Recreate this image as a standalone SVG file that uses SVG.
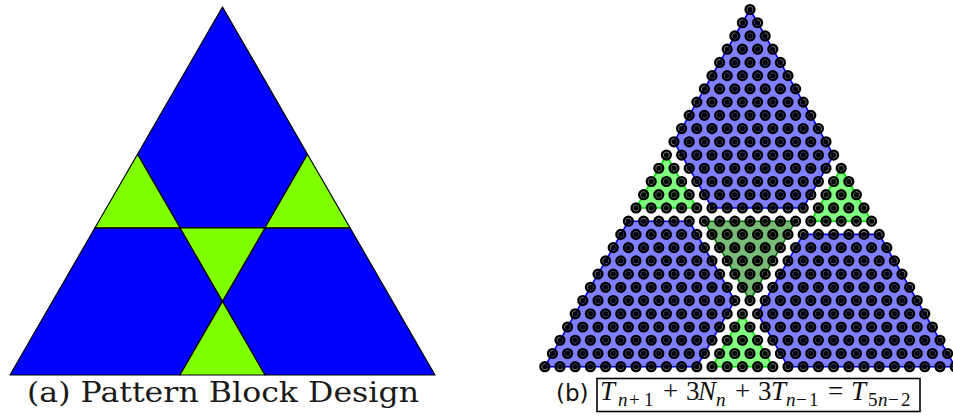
<svg xmlns="http://www.w3.org/2000/svg" width="953" height="418" viewBox="0 0 953 418">
<style>
.blk{stroke:#000;stroke-width:1.2;stroke-linejoin:round}
.bA{fill:#0000ff}
.gA{fill:#7fff00}
.pb{fill:#8080ff;stroke:#0000ff;stroke-width:1.6;stroke-linejoin:round}
.pg{fill:#80ff80;stroke:#00e000;stroke-width:1.6;stroke-linejoin:round}
.pd{fill:#78bb78;stroke:#007a00;stroke-width:1.6;stroke-linejoin:round}
.cap{font-family:"DejaVu Serif",serif;font-size:27px;fill:#1a1a1a}
.lb{font-family:"DejaVu Sans",sans-serif;font-size:23px;fill:#111}
.m{font-family:"Liberation Serif",serif;font-size:27px;fill:#111}
.s{font-size:19px}
.i{font-style:italic}
</style>
<defs>
<g id="d"><circle r="4.4" fill="none" stroke="#000" stroke-width="2.4"/><circle r="3.2" fill="#000" fill-opacity="0.5"/><circle r="2.5" fill="#000"/></g>
<g id="r1"><use href="#d"/></g>
<g id="r2"><use href="#r1"/><use href="#d" x="15.2"/></g>
<g id="r3"><use href="#r2"/><use href="#d" x="30.4"/></g>
<g id="r4"><use href="#r3"/><use href="#d" x="45.6"/></g>
<g id="r5"><use href="#r4"/><use href="#d" x="60.8"/></g>
<g id="r6"><use href="#r5"/><use href="#d" x="76"/></g>
<g id="r7"><use href="#r6"/><use href="#d" x="91.2"/></g>
<g id="r8"><use href="#r7"/><use href="#d" x="106.4"/></g>
<g id="r9"><use href="#r8"/><use href="#d" x="121.6"/></g>
<g id="r10"><use href="#r9"/><use href="#d" x="136.8"/></g>
<g id="r11"><use href="#r10"/><use href="#d" x="152"/></g>
<g id="r12"><use href="#r11"/><use href="#d" x="167.2"/></g>
<g id="r13"><use href="#r12"/><use href="#d" x="182.4"/></g>
<g id="r14"><use href="#r13"/><use href="#d" x="197.6"/></g>
<g id="r15"><use href="#r14"/><use href="#d" x="212.8"/></g>
<g id="r16"><use href="#r15"/><use href="#d" x="228"/></g>
<g id="r17"><use href="#r16"/><use href="#d" x="243.2"/></g>
<g id="r18"><use href="#r17"/><use href="#d" x="258.4"/></g>
<g id="r19"><use href="#r18"/><use href="#d" x="273.6"/></g>
<g id="r20"><use href="#r19"/><use href="#d" x="288.8"/></g>
<g id="r21"><use href="#r20"/><use href="#d" x="304"/></g>
<g id="r22"><use href="#r21"/><use href="#d" x="319.2"/></g>
<g id="r23"><use href="#r22"/><use href="#d" x="334.4"/></g>
<g id="r24"><use href="#r23"/><use href="#d" x="349.6"/></g>
<g id="r25"><use href="#r24"/><use href="#d" x="364.8"/></g>
<g id="r26"><use href="#r25"/><use href="#d" x="380"/></g>
<g id="r27"><use href="#r26"/><use href="#d" x="395.2"/></g>
<g id="r28"><use href="#r27"/><use href="#d" x="410.4"/></g>
</defs>
<rect width="953" height="418" fill="#fff"/>

<!-- (a) pattern block design -->
<g id="design-a" class="blk">
  <polygon id="a-top" class="bA" points="222.5,7 137.5,154.2 180,227.8 265,227.8 307.5,154.2"/>
  <polygon id="a-left" class="bA" points="95,227.8 180,227.8 222.5,301.4 180,375 10,375"/>
  <polygon id="a-right" class="bA" points="265,227.8 350,227.8 435,375 265,375 222.5,301.4"/>
  <polygon id="a-g1" class="gA" points="137.5,154.2 95,227.8 180,227.8"/>
  <polygon id="a-g2" class="gA" points="307.5,154.2 265,227.8 350,227.8"/>
  <polygon id="a-g3" class="gA" points="180,227.8 265,227.8 222.5,301.4"/>
  <polygon id="a-g4" class="gA" points="222.5,301.4 180,375 265,375"/>
</g>
<text id="caption-a" class="cap" x="27" y="402" textLength="392" lengthAdjust="spacingAndGlyphs">(a) Pattern Block Design</text>

<!-- (b) dot decomposition -->
<g id="design-b">
  <polygon id="b-top" class="pb" points="750,9.5 674,141.8 712,207.95 803.2,207.95 833.6,155.03"/>
  <polygon id="b-left" class="pb" points="628.4,221.18 689.2,221.18 734.8,300.56 696.8,366.71 544.8,366.71"/>
  <polygon id="b-right" class="pb" points="803.2,234.41 879.2,234.41 955.2,366.71 788,366.71 757.6,313.79"/>
  <polygon id="b-g1" class="pg" points="666.4,155.03 636,207.95 696.8,207.95"/>
  <polygon id="b-g2" class="pg" points="841.2,168.26 810.8,221.18 871.6,221.18"/>
  <polygon id="b-g3" class="pg" points="742.4,313.79 712,366.71 772.8,366.71"/>
  <polygon id="b-center" class="pd" points="704.4,221.18 795.6,221.18 750,300.56"/>
</g>
<g id="dots">
  <use href="#r1" x="750" y="9.5"/>
  <use href="#r2" x="742.4" y="22.73"/>
  <use href="#r3" x="734.8" y="35.96"/>
  <use href="#r4" x="727.2" y="49.19"/>
  <use href="#r5" x="719.6" y="62.42"/>
  <use href="#r6" x="712" y="75.65"/>
  <use href="#r7" x="704.4" y="88.88"/>
  <use href="#r8" x="696.8" y="102.11"/>
  <use href="#r9" x="689.2" y="115.34"/>
  <use href="#r10" x="681.6" y="128.57"/>
  <use href="#r11" x="674" y="141.8"/>
  <use href="#r12" x="666.4" y="155.03"/>
  <use href="#r13" x="658.8" y="168.26"/>
  <use href="#r14" x="651.2" y="181.49"/>
  <use href="#r15" x="643.6" y="194.72"/>
  <use href="#r16" x="636" y="207.95"/>
  <use href="#r17" x="628.4" y="221.18"/>
  <use href="#r18" x="620.8" y="234.41"/>
  <use href="#r19" x="613.2" y="247.64"/>
  <use href="#r20" x="605.6" y="260.87"/>
  <use href="#r21" x="598" y="274.1"/>
  <use href="#r22" x="590.4" y="287.33"/>
  <use href="#r23" x="582.8" y="300.56"/>
  <use href="#r24" x="575.2" y="313.79"/>
  <use href="#r25" x="567.6" y="327.02"/>
  <use href="#r26" x="560" y="340.25"/>
  <use href="#r27" x="552.4" y="353.48"/>
  <use href="#r28" x="544.8" y="366.71"/>
</g>

<g id="caption-b">
  <text class="lb" x="556" y="401">(b)</text>
  <rect x="597" y="378.5" width="323" height="33" fill="none" stroke="#000" stroke-width="1.6"/>
  <text class="m i" x="600" y="400">T</text>
  <text class="m s i" x="618" y="406">n</text>
  <text class="m s" x="629" y="406">+</text>
  <text class="m s" x="644" y="406">1</text>
  <text class="m" x="663" y="400">+</text>
  <text class="m" x="686" y="400">3</text>
  <text class="m i" x="698" y="400">N</text>
  <text class="m s i" x="716" y="406">n</text>
  <text class="m" x="735" y="400">+</text>
  <text class="m" x="758" y="400">3</text>
  <text class="m i" x="771" y="400">T</text>
  <text class="m s i" x="786" y="406">n</text>
  <text class="m s" x="796" y="406">−</text>
  <text class="m s" x="809" y="406">1</text>
  <text class="m" x="828" y="400">=</text>
  <text class="m i" x="851" y="400">T</text>
  <text class="m s" x="868" y="406">5</text>
  <text class="m s i" x="878" y="406">n</text>
  <text class="m s" x="888" y="406">−</text>
  <text class="m s" x="901" y="406">2</text>
</g>
</svg>
